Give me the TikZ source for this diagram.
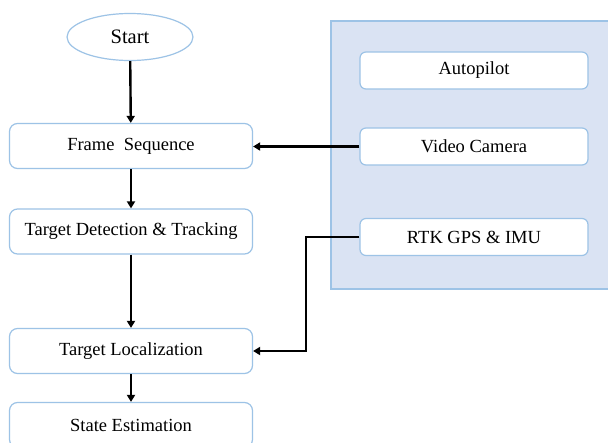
\documentclass[tikz,border=0pt]{standalone}
\usepackage{fontspec}
\setmainfont{Liberation Serif}
\newfontfamily\timesfont{Liberation Serif}
\usetikzlibrary{arrows.meta,shapes.geometric}
\definecolor{bordblue}{HTML}{9DC3E6}
\definecolor{panelblue}{HTML}{DAE3F3}
\begin{document}
\begin{tikzpicture}[x=1pt,y=-1pt,
  flowbox/.style={draw=bordblue, line width=1.2pt, rounded corners=8pt, fill=white,
    minimum width=243pt, minimum height=45pt, inner sep=0pt,
    font=\timesfont\fontsize{18.5}{22}\selectfont},
  sidebox/.style={draw=bordblue, line width=1.2pt, rounded corners=6pt, fill=white,
    minimum width=228pt, minimum height=37pt, inner sep=0pt,
    font=\timesfont\fontsize{18.5}{22}\selectfont},
  startnode/.style={ellipse, draw=bordblue, line width=1.2pt, fill=white,
    minimum width=126pt, minimum height=47pt, inner sep=0pt,
    font=\timesfont\fontsize{20.5}{24}\selectfont},
  panelbox/.style={draw=bordblue, line width=1.2pt, fill=panelblue},
  conn/.style={draw=black, line width=2.4pt, -{Triangle[length=7pt,width=8pt]}}]
\clip (0,0) rectangle (608,442);
\fill[white] (0,0) rectangle (608,442);
\node[panelbox, minimum width=281pt, minimum height=268pt, inner sep=0pt] (panel) at (471.5,155) {};
\node[startnode] (start) at (130,37) {Start};
\node[flowbox] (frame) at (131,146) {Frame\ \ Sequence};
\node[flowbox] (detect) at (131,231.5) {Target Detection \& Tracking};
\node[flowbox] (local) at (131,351) {Target Localization};
\node[flowbox] (state) at (131,425) {State Estimation};
\node[sidebox] (auto) at (474,70.5) {Autopilot};
\node[sidebox] (video) at (474,146.5) {Video Camera};
\node[sidebox] (rtk) at (474,237) {RTK GPS \& IMU};
\coordinate (bend) at (306,237);
\draw[conn] (start) -- (frame);
\draw[conn] (frame) -- (detect);
\draw[conn] (detect) -- (local);
\draw[conn] (local) -- (state);
\draw[conn] (video.west) -- (video.west -| frame.east);
\draw[conn] (rtk.west) -- (bend) |- (local.east);
\end{tikzpicture}
\end{document}
